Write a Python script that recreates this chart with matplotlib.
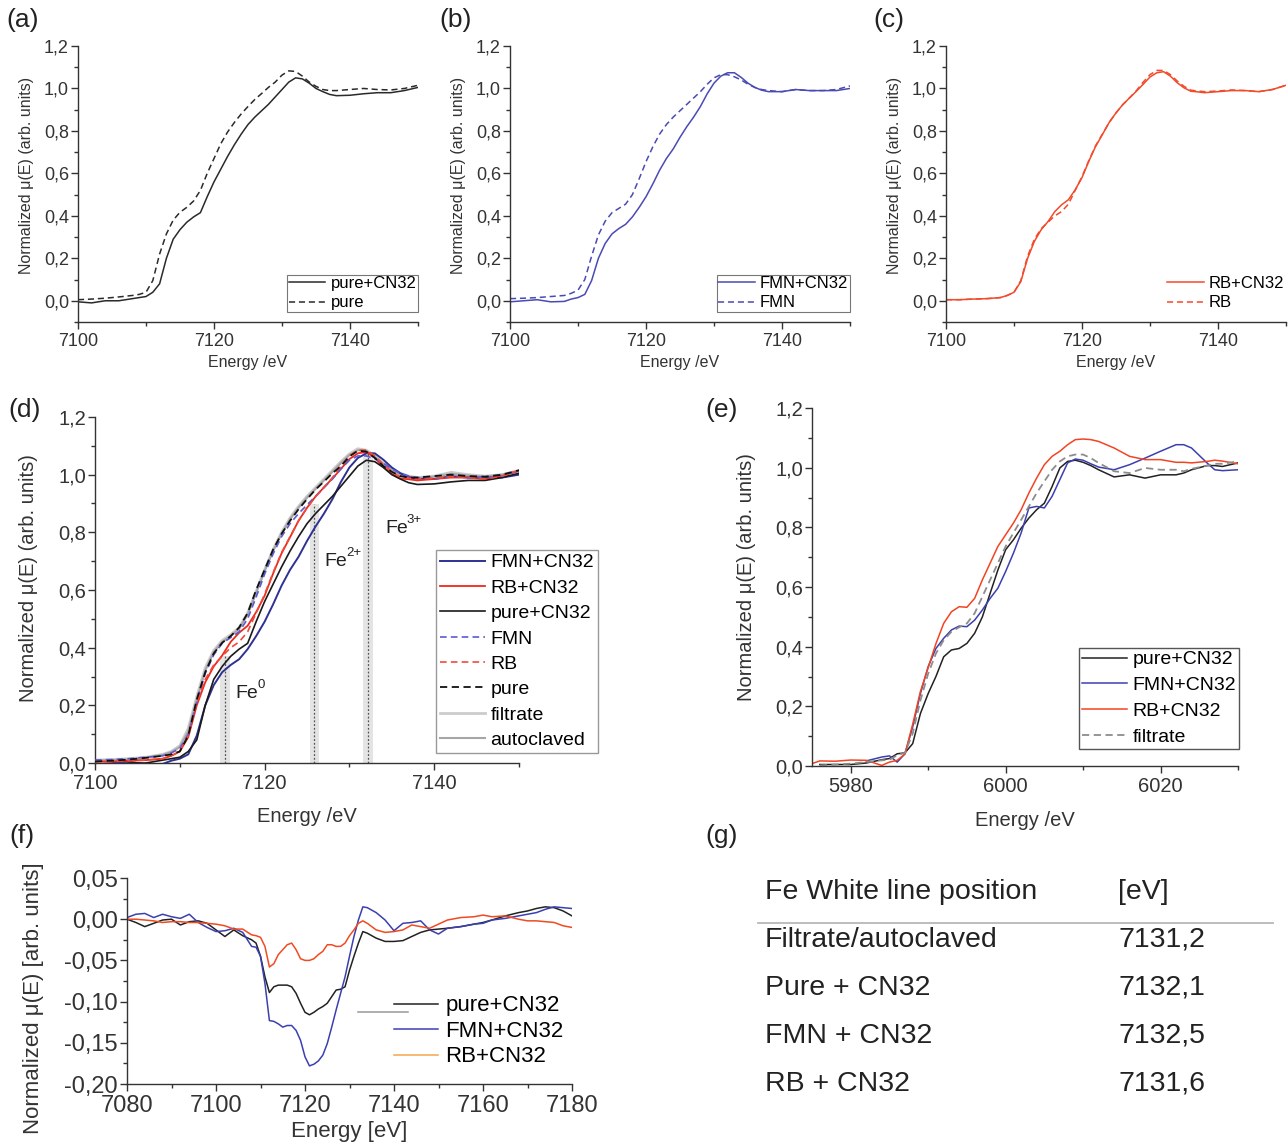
import matplotlib
matplotlib.use("Agg")
import matplotlib.pyplot as plt
from matplotlib.ticker import MultipleLocator, FuncFormatter
import numpy as np

plt.rcParams['font.family'] = ['Liberation Sans', 'DejaVu Sans']

# ---- Fe K-edge XANES (panels a-d) ----
energy_fe = [7100, 7102, 7104, 7106, 7108, 7109, 7110, 7111, 7112, 7113, 7114, 7115, 7116, 7117,
             7118, 7119, 7120, 7121, 7122, 7123, 7124, 7125, 7126, 7127, 7128, 7129, 7130, 7131,
             7132, 7133, 7134, 7135, 7136, 7137, 7138, 7140, 7142, 7144, 7146, 7148, 7150]
pure_cn32 = [-0.005, -0.01, 0.0, 0.0, 0.01, 0.015, 0.02, 0.04, 0.08, 0.20, 0.29, 0.335, 0.37, 0.395,
             0.415, 0.49, 0.56, 0.62, 0.68, 0.735, 0.785, 0.83, 0.865, 0.895, 0.925, 0.96, 0.995, 1.03,
             1.05, 1.045, 1.025, 1.0, 0.985, 0.972, 0.966, 0.968, 0.975, 0.98, 0.98, 0.99, 1.005]
pure = [0.005, 0.008, 0.012, 0.018, 0.025, 0.03, 0.04, 0.095, 0.22, 0.315, 0.38, 0.417, 0.44, 0.47,
        0.52, 0.60, 0.67, 0.74, 0.795, 0.84, 0.88, 0.915, 0.948, 0.976, 1.005, 1.03, 1.063, 1.083,
        1.08, 1.058, 1.03, 1.01, 0.995, 0.99, 0.99, 0.995, 1.0, 0.995, 0.993, 1.0, 1.015]
fmn_cn32 = [-0.005, 0.0, 0.005, -0.005, -0.003, 0.008, 0.015, 0.03, 0.095, 0.2, 0.27, 0.315, 0.34, 0.36,
            0.395, 0.44, 0.49, 0.55, 0.615, 0.67, 0.715, 0.77, 0.82, 0.865, 0.915, 0.975, 1.025, 1.058,
            1.074, 1.074, 1.052, 1.025, 1.005, 0.992, 0.985, 0.985, 0.995, 0.99, 0.99, 0.99, 1.0]
fmn = [0.01, 0.012, 0.015, 0.02, 0.025, 0.035, 0.05, 0.10, 0.21, 0.31, 0.375, 0.415, 0.435, 0.455,
       0.50, 0.575, 0.655, 0.725, 0.785, 0.83, 0.865, 0.895, 0.925, 0.955, 0.985, 1.02, 1.05, 1.065,
       1.065, 1.055, 1.04, 1.02, 1.005, 0.995, 0.99, 0.985, 0.995, 0.99, 0.99, 0.995, 1.012]
rb_cn32 = [0.005, 0.005, 0.008, 0.01, 0.015, 0.025, 0.04, 0.09, 0.2, 0.28, 0.335, 0.373, 0.42, 0.452,
           0.476, 0.523, 0.58, 0.657, 0.727, 0.783, 0.84, 0.885, 0.924, 0.956, 0.987, 1.02, 1.054, 1.074,
           1.079, 1.058, 1.027, 1.003, 0.987, 0.984, 0.98, 0.985, 0.99, 0.99, 0.985, 0.995, 1.015]
rb = [0.005, 0.005, 0.008, 0.01, 0.015, 0.025, 0.04, 0.095, 0.21, 0.29, 0.34, 0.37, 0.40, 0.42,
      0.455, 0.52, 0.585, 0.66, 0.73, 0.785, 0.84, 0.885, 0.924, 0.956, 0.99, 1.03, 1.065, 1.085,
      1.085, 1.065, 1.035, 1.01, 0.992, 0.988, 0.985, 0.988, 0.993, 0.99, 0.985, 0.995, 1.015]
filtrate = [0.01, 0.012, 0.015, 0.02, 0.03, 0.04, 0.06, 0.12, 0.23, 0.33, 0.39, 0.425, 0.445, 0.47,
            0.52, 0.595, 0.67, 0.74, 0.80, 0.85, 0.89, 0.925, 0.955, 0.985, 1.015, 1.045, 1.072, 1.09,
            1.085, 1.065, 1.04, 1.02, 1.005, 0.995, 0.99, 0.995, 1.008, 1.0, 0.995, 1.0, 1.015]
autoclaved = [0.008, 0.01, 0.012, 0.018, 0.028, 0.038, 0.055, 0.11, 0.22, 0.32, 0.385, 0.42, 0.44, 0.465,
              0.515, 0.59, 0.665, 0.735, 0.795, 0.845, 0.885, 0.92, 0.95, 0.98, 1.01, 1.04, 1.068, 1.085,
              1.082, 1.062, 1.037, 1.017, 1.0, 0.992, 0.988, 0.993, 1.003, 0.997, 0.993, 1.0, 1.012]

# Fe oxidation-state reference bands in (d)
band_base = ["Fe", "Fe", "Fe"]
band_sup = ["0", "2+", "3+"]
band_left = [7114.75, 7125.3, 7131.6]
band_right = [7115.9, 7126.4, 7132.8]
band_centre = [7115.3, 7125.8, 7132.2]
band_top = [0.37, 0.90, 1.08]
label_x = [7116.6, 7127.1, 7134.2]
label_y = [0.24, 0.70, 0.815]

# ---- Mn K-edge XANES (panel e) ----
energy_mn = [5975, 5976, 5978, 5980, 5982, 5984, 5985, 5986, 5987, 5988, 5989, 5990, 5991, 5992, 5993,
             5994, 5995, 5996, 5997, 5998, 5999, 6000, 6001, 6002, 6003, 6004, 6005, 6006, 6007, 6008,
             6009, 6010, 6011, 6012, 6014, 6016, 6018, 6020, 6022, 6023, 6024, 6026, 6027, 6028, 6030]
mn_pure_cn32 = [np.nan, 0.005, 0.005, 0.005, 0.01, 0.021, 0.025, 0.041, 0.044, 0.075, 0.176, 0.243, 0.30,
                0.366, 0.389, 0.394, 0.411, 0.445, 0.50, 0.579, 0.657, 0.725, 0.758, 0.797, 0.831, 0.859,
                0.881, 0.937, 0.999, 1.021, 1.025, 1.018, 1.007, 0.993, 0.969, 0.976, 0.965, 0.976, 0.976,
                0.982, 0.993, 1.007, 1.007, 1.004, 1.016]
mn_fmn_cn32 = [np.nan, np.nan, np.nan, np.nan, 0.017, 0.03, 0.034, 0.013, 0.041, 0.131, 0.243, 0.333,
               0.394, 0.428, 0.456, 0.469, 0.467, 0.489, 0.523, 0.562, 0.596, 0.652, 0.713, 0.781, 0.865,
               0.87, 0.865, 0.904, 0.96, 1.016, 1.029, 1.025, 1.013, 1.002, 0.993, 1.01, 1.032, 1.055,
               1.077, 1.077, 1.066, 1.016, 0.993, 0.99, 0.993]
mn_rb_cn32 = [0.008, 0.017, 0.016, 0.02, 0.019, 0.002, 0.013, 0.019, 0.04, 0.14, 0.25, 0.33, 0.41, 0.478,
              0.517, 0.534, 0.532, 0.562, 0.624, 0.68, 0.736, 0.775, 0.814, 0.859, 0.915, 0.965, 1.01,
              1.038, 1.055, 1.077, 1.094, 1.096, 1.094, 1.088, 1.066, 1.038, 1.027, 1.027, 1.018, 1.018,
              1.016, 1.021, 1.025, 1.022, 1.013]
mn_filtrate = [np.nan, 0.002, 0.005, 0.008, 0.013, 0.019, 0.021, 0.036, 0.044, 0.109, 0.22, 0.31, 0.377,
               0.422, 0.45, 0.465, 0.478, 0.512, 0.568, 0.624, 0.68, 0.736, 0.781, 0.825, 0.87, 0.915,
               0.954, 0.993, 1.021, 1.038, 1.044, 1.044, 1.032, 1.016, 0.988, 0.982, 0.999, 0.993, 0.993,
               0.988, 0.996, 1.007, 1.013, 1.013, 1.021]

# ---- difference spectra (panel f) ----
energy_diff = [7080, 7082, 7084, 7086, 7088, 7090, 7092, 7094, 7096, 7098, 7100, 7102, 7104, 7106,
               7108, 7109, 7110, 7111, 7112, 7113, 7114, 7115, 7116, 7117, 7118, 7119, 7120, 7121,
               7122, 7123, 7124, 7125, 7126, 7127, 7128, 7129, 7130, 7131, 7132, 7133, 7134,
               7136, 7138, 7140, 7142, 7144, 7146, 7148, 7150, 7152,
               7155, 7158, 7160, 7162, 7165, 7168, 7170, 7172, 7174, 7176, 7178, 7180]
diff_pure = [0.0, -0.004, -0.009, -0.005, -0.001, 0.0, -0.007, -0.003, -0.002, -0.005, -0.013, -0.021, -0.013, -0.02,
             -0.025, -0.029, -0.045, -0.07, -0.089, -0.082, -0.08, -0.08, -0.08, -0.082, -0.09, -0.102, -0.113, -0.116,
             -0.113, -0.109, -0.106, -0.102, -0.094, -0.086, -0.085, -0.082, -0.062, -0.045, -0.029, -0.015, -0.017,
             -0.023, -0.027, -0.027, -0.026, -0.021, -0.016, -0.013, -0.012, -0.011,
             -0.009, -0.006, -0.004, -0.001, 0.004, 0.008, 0.01, 0.013, 0.015, 0.014, 0.01, 0.004]
diff_fmn = [0.002, 0.006, 0.007, 0.002, 0.006, 0.003, 0.001, 0.006, -0.004, -0.01, -0.015, -0.014, -0.011, -0.016,
            -0.033, -0.034, -0.045, -0.078, -0.123, -0.124, -0.127, -0.131, -0.129, -0.129, -0.135, -0.147, -0.167, -0.178,
            -0.176, -0.172, -0.165, -0.151, -0.131, -0.11, -0.09, -0.07, -0.045, -0.021, -0.001, 0.015, 0.014,
            0.008, -0.001, -0.014, -0.005, -0.004, -0.002, -0.013, -0.018, -0.011,
            -0.009, -0.006, -0.005, -0.001, 0.001, 0.004, 0.006, 0.008, 0.012, 0.015, 0.014, 0.013]
diff_rb = [0.0, 0.0, -0.001, -0.002, -0.004, -0.003, -0.003, -0.004, -0.004, -0.005, -0.006, -0.008, -0.012, -0.012,
           -0.019, -0.02, -0.022, -0.033, -0.058, -0.054, -0.043, -0.037, -0.031, -0.029, -0.037, -0.048, -0.05, -0.05,
           -0.048, -0.043, -0.039, -0.031, -0.031, -0.033, -0.033, -0.029, -0.02, -0.013, -0.005, -0.002, -0.005,
           -0.013, -0.016, -0.015, -0.013, -0.007, -0.009, -0.011, -0.006, -0.001,
           0.002, 0.003, 0.005, 0.003, 0.004, 0.0, -0.002, -0.002, -0.003, -0.004, -0.008, -0.01]

# ---- table (panel g) ----
table_header = ["Fe White line position", "[eV]"]
table_samples = ["Filtrate/autoclaved", "Pure + CN32", "FMN + CN32", "RB + CN32"]
table_values = [7131.2, 7132.1, 7132.5, 7131.6]

W, H = 1288, 1145
fig = plt.figure(figsize=(W / 100, H / 100), dpi=100)


def add_ax(x0, x1, y0, y1):
    # pixel box -> figure fraction
    return fig.add_axes([x0 / W, 1 - y1 / H, (x1 - x0) / W, (y1 - y0) / H])


def comma1(v, pos):
    return f"{v:.1f}".replace(".", ",")


def comma2(v, pos):
    if abs(v) < 1e-9:
        v = 0.0
    return f"{v:.2f}".replace(".", ",")


def style(ax, xlim, ylim, xmaj, ymaj, fs, fmt):
    ax.set_xlim(xlim)
    ax.set_ylim(ylim)
    ax.xaxis.set_major_locator(MultipleLocator(xmaj))
    ax.xaxis.set_minor_locator(MultipleLocator(xmaj / 2))
    ax.yaxis.set_major_locator(MultipleLocator(ymaj))
    ax.yaxis.set_minor_locator(MultipleLocator(ymaj / 2))
    ax.yaxis.set_major_formatter(FuncFormatter(fmt))
    ax.spines['top'].set_visible(False)
    ax.spines['right'].set_visible(False)
    for s in ['left', 'bottom']:
        ax.spines[s].set_color('#333333')
        ax.spines[s].set_linewidth(1.0)
    ax.tick_params(which='both', direction='out', colors='#333333', labelsize=fs, width=1.0)
    ax.tick_params(which='major', length=5)
    ax.tick_params(which='minor', length=3)
    ax.tick_params(axis='y', pad=1.5)
    ax.tick_params(axis='x', pad=3)


def labels(ax, xl, yl, fs, xy, yx, yy):
    ax.set_xlabel(xl, fontsize=fs, color='#333333', va='center')
    ax.xaxis.set_label_coords(0.5, xy)
    ax.set_ylabel(yl, fontsize=fs, color='#333333', va='center')
    ax.yaxis.set_label_coords(yx, yy)


ylab = "Normalized μ(E) (arb. units)"
dash = (4, 2.5)

# (a) (b) (c)
top_pairs = [
    (78, pure_cn32, pure, "pure+CN32", "pure", '#2a2a2a'),
    (510, fmn_cn32, fmn, "FMN+CN32", "FMN", '#4a4ab4'),
    (946, rb_cn32, rb, "RB+CN32", "RB", '#f24a2a'),
]
for i, (x0, solid, dashed, lab1, lab2, col) in enumerate(top_pairs):
    ax = add_ax(x0, x0 + 340, 46, 322)
    ax.plot(energy_fe, solid, color=col, lw=1.1, label=lab1)
    ax.plot(energy_fe, dashed, color=col, lw=1.1, dashes=dash, label=lab2)
    style(ax, (7100, 7150), (-0.1, 1.2), 20, 0.2, 13, comma1)
    labels(ax, "Energy /eV", ylab, 11.5, -0.145, -0.15, 0.53)
    leg = ax.legend(loc='lower right', bbox_to_anchor=(1.0, 0.036), fontsize=12,
                    frameon=(i < 2), fancybox=False, edgecolor='#555555', borderaxespad=0,
                    borderpad=0.1, labelspacing=0.25, handlelength=2.2, handletextpad=0.3)
    leg.get_frame().set_linewidth(0.8)

# (d)
ax = add_ax(95, 519, 417, 763)
for l, r, c, t in zip(band_left, band_right, band_centre, band_top):
    ax.axvspan(l, r, ymin=0, ymax=t / 1.2, color='#e4e4e4', lw=0, zorder=0)
    ax.axvline(c, ymin=0, ymax=t / 1.2, color='#555555', lw=0.9, ls=(0, (1.5, 1.5)), zorder=1)
ax.plot(energy_fe, filtrate, color='#cccccc', lw=2.0, label='filtrate', zorder=2)
ax.plot(energy_fe, autoclaved, color='#a6a6a6', lw=1.5, label='autoclaved', zorder=2)
ax.plot(energy_fe, fmn_cn32, color='#2e3192', lw=1.4, label='FMN+CN32', zorder=3)
ax.plot(energy_fe, rb_cn32, color='#ee2a1b', lw=1.3, label='RB+CN32', zorder=3)
ax.plot(energy_fe, pure_cn32, color='#1a1a1a', lw=1.2, label='pure+CN32', zorder=3)
ax.plot(energy_fe, fmn, color='#5a5ad6', lw=1.2, dashes=dash, label='FMN', zorder=3)
ax.plot(energy_fe, rb, color='#f04a3a', lw=1.2, dashes=dash, label='RB', zorder=3)
ax.plot(energy_fe, pure, color='#111111', lw=1.3, dashes=dash, label='pure', zorder=3)
for base, sup, x, y in zip(band_base, band_sup, label_x, label_y):
    ax.text(x, y, base, fontsize=14, color='#222222', va='center', ha='left')
    ax.annotate(sup, xy=(x, y), xytext=(15.3, 6), textcoords='offset points',
                fontsize=9.5, color='#222222', va='center', ha='left')
style(ax, (7100, 7150), (0, 1.2), 20, 0.2, 14.5, comma1)
labels(ax, "Energy /eV", ylab, 14.5, -0.156, -0.158, 0.535)
h, lb = ax.get_legend_handles_labels()
order = ['FMN+CN32', 'RB+CN32', 'pure+CN32', 'FMN', 'RB', 'pure', 'filtrate', 'autoclaved']
hh = [h[lb.index(o)] for o in order]
leg = ax.legend(hh, order, loc='lower left', bbox_to_anchor=(0.804, 0.029), fontsize=14,
                fancybox=False, edgecolor='#999999', borderaxespad=0, borderpad=0.2,
                labelspacing=0.4, handlelength=2.3, handletextpad=0.3, framealpha=1)
leg.get_frame().set_linewidth(1.0)
leg.set_zorder(5)

# (e)
ax = add_ax(812, 1238, 408, 766)
ax.plot(energy_mn, mn_pure_cn32, color='#222222', lw=1.1, label='pure+CN32')
ax.plot(energy_mn, mn_fmn_cn32, color='#3b40b0', lw=1.1, label='FMN+CN32')
ax.plot(energy_mn, mn_rb_cn32, color='#f24422', lw=1.1, label='RB+CN32')
ax.plot(energy_mn, mn_filtrate, color='#8c8c8c', lw=1.3, dashes=dash, label='filtrate')
style(ax, (5975, 6030), (0, 1.2), 20, 0.2, 14.5, comma1)
labels(ax, "Energy /eV", ylab, 14.5, -0.151, -0.153, 0.528)
leg = ax.legend(loc='upper left', bbox_to_anchor=(0.627, 0.33), fontsize=14, fancybox=False,
                edgecolor='#555555', borderaxespad=0, borderpad=0.15, labelspacing=0.42,
                handlelength=2.3, handletextpad=0.3, framealpha=1)
leg.get_frame().set_linewidth(1.0)

# (f)
ax = add_ax(127, 572, 878, 1084)
ax.plot(energy_diff, diff_pure, color='#222222', lw=1.1, label='pure+CN32')
ax.plot(energy_diff, diff_fmn, color='#3b40b0', lw=1.1, label='FMN+CN32')
ax.plot(energy_diff, diff_rb, color='#f04a20', lw=1.1, label='RB+CN32')
style(ax, (7080, 7180), (-0.2, 0.05), 20, 0.05, 17, comma2)
labels(ax, "Energy [eV]", "Normalized μ(E) [arb. units]", 16, -0.233, -0.209, 0.417)
leg = ax.legend(loc='upper left', bbox_to_anchor=(0.60, 0.43), fontsize=16, frameon=False,
                borderaxespad=0, borderpad=0, labelspacing=0.2, handlelength=2.0, handletextpad=0.3)
leg.get_lines()[2].set_color('#f5a54a')
ax.plot([0.519, 0.631], [0.35, 0.35], transform=ax.transAxes, color='#999999', lw=1.1, clip_on=False)

# (g) table
tfs = 20.5
fig.text(765 / W, 1 - 892 / H, table_header[0], fontsize=tfs, color='#222222', va='center')
fig.text(1118 / W, 1 - 892 / H, table_header[1], fontsize=tfs, color='#222222', va='center')
fig.add_artist(plt.Line2D([758 / W, 1273 / W], [1 - 923 / H, 1 - 923 / H], color='#b8b8b8', lw=1.3))
for k, (s, v) in enumerate(zip(table_samples, table_values)):
    yy = 1 - (940 + 48 * k) / H
    fig.text(765 / W, yy, s, fontsize=tfs, color='#222222', va='center')
    fig.text(1118 / W, yy, f"{v:.1f}".replace(".", ","), fontsize=tfs, color='#222222', va='center')

# panel letters
panel_pos = [("(a)", 23, 20), ("(b)", 456, 20), ("(c)", 889, 20), ("(d)", 25, 410),
             ("(e)", 722, 410), ("(f)", 22, 836), ("(g)", 722, 836)]
for t, x, y in panel_pos:
    fig.text(x / W, 1 - y / H, t, fontsize=19, color='#222222', ha='center', va='center')

fig.savefig("out.png", dpi=100)
